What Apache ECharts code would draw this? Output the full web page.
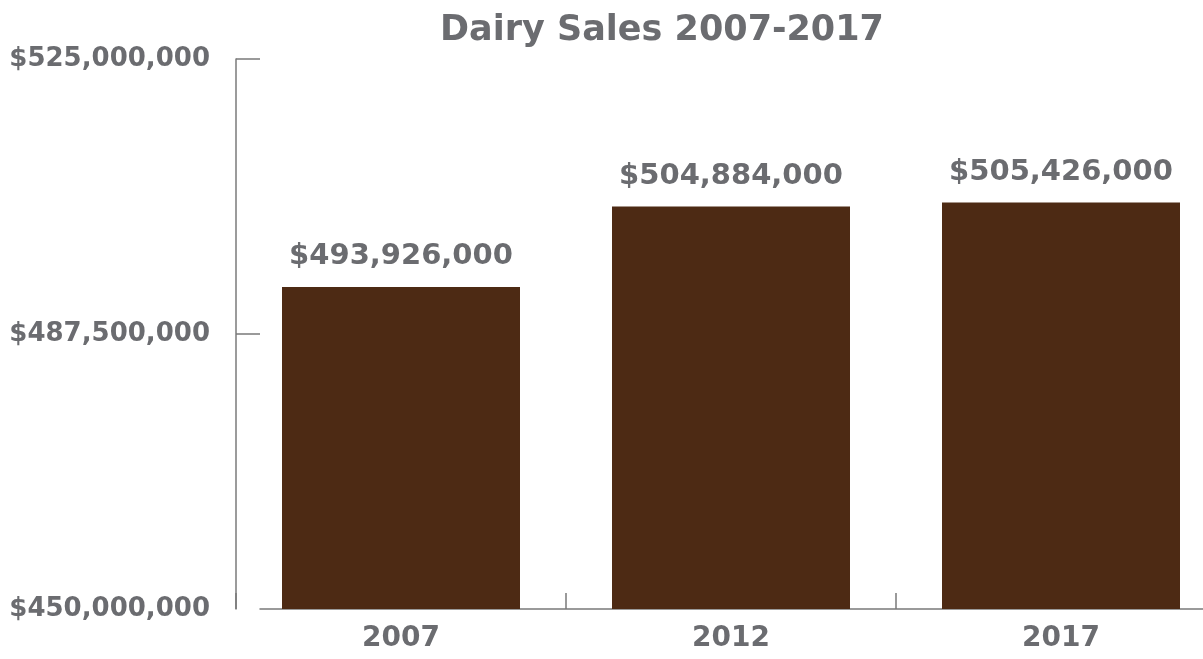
<!DOCTYPE html>
<html>
<head>
<meta charset="utf-8">
<script src="https://cdn.jsdelivr.net/npm/echarts@6/dist/echarts.min.js"></script>
<style>
  html, body { margin: 0; padding: 0; background: #ffffff; }
  #chart { width: 1203px; height: 659px; }
</style>
</head>
<body>
<div id="chart"></div>
<script>
// Dairy sales by census year
const years = ['2007', '2012', '2017'];
const sales = [493926000, 504884000, 505426000];

const yMin = 450000000;
const yMax = 525000000;
const yStep = 37500000;
const yTickValues = [487500000, 525000000];

const textGrey = '#6b6c70';
const axisGrey = '#7a7a7a';
const barBrown = '#4d2a14';
const fontFamily = '"DejaVu Sans", sans-serif';

const money = v => '$' + Number(v).toLocaleString('en-US');

const chart = echarts.init(document.getElementById('chart'));
chart.setOption({
  animation: false,
  backgroundColor: '#ffffff',
  title: {
    text: 'Dairy Sales 2007-2017',
    left: 657,
    textAlign: 'center',
    top: 8,
    textStyle: { color: textGrey, fontFamily, fontWeight: 'bold', fontSize: 35 }
  },
  grid: [
    // plotting area for the bars
    { left: 236, top: 59, width: 990, height: 550, containLabel: false, outerBoundsMode: 'none' },
    // baseline, which starts a little right of the value axis
    { left: 260, top: 59, width: 966, height: 550, containLabel: false, outerBoundsMode: 'none' }
  ],
  xAxis: [
    {
      type: 'category',
      gridIndex: 0,
      data: years,
      axisLine: { show: false },
      axisTick: { show: true, interval: 0, inside: true, length: 16, lineStyle: { color: axisGrey, width: 1.5 } },
      axisLabel: { color: textGrey, fontFamily, fontWeight: 'bold', fontSize: 28, margin: 16 }
    },
    {
      type: 'value',
      gridIndex: 1,
      min: 0,
      max: 1,
      axisLine: { show: true, lineStyle: { color: axisGrey, width: 1.5 } },
      axisTick: { show: false },
      axisLabel: { show: false },
      splitLine: { show: false }
    }
  ],
  yAxis: [
    {
      type: 'value',
      gridIndex: 0,
      min: yMin,
      max: yMax,
      interval: yStep,
      splitLine: { show: false },
      axisLine: { show: true, lineStyle: { color: axisGrey, width: 1.5 } },
      axisTick: { show: true, inside: true, length: 24, customValues: yTickValues, lineStyle: { color: axisGrey, width: 1.5 } },
      axisLabel: { color: textGrey, fontFamily, fontWeight: 'bold', fontSize: 26, margin: 26, padding: [6, 0, 0, 0], formatter: money }
    },
    {
      type: 'value',
      gridIndex: 1,
      min: 0,
      max: 1,
      show: false
    }
  ],
  series: [{
    type: 'bar',
    xAxisIndex: 0,
    yAxisIndex: 0,
    data: sales,
    barWidth: 238,
    itemStyle: { color: barBrown },
    label: {
      show: true,
      position: 'top',
      distance: 16,
      color: textGrey,
      fontFamily,
      fontWeight: 'bold',
      fontSize: 29,
      formatter: p => money(p.value)
    }
  }]
});
</script>
</body>
</html>
